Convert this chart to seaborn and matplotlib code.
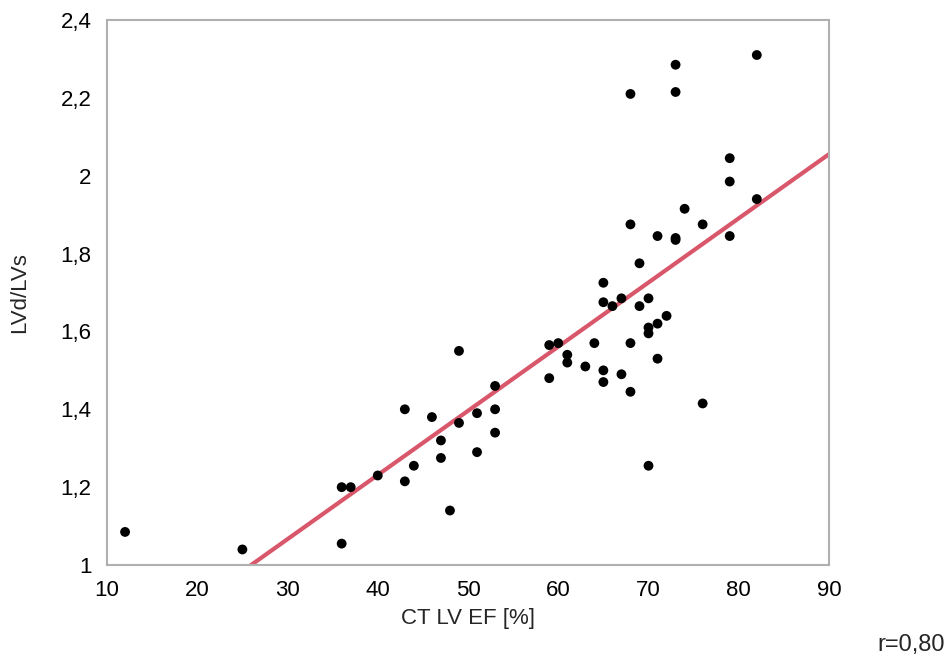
import matplotlib
matplotlib.use("Agg")
import matplotlib.pyplot as plt
import matplotlib.ticker as mticker
import seaborn as sns
import pandas as pd
import numpy as np

ct_lv_ef = [12, 25, 36, 37, 36, 40, 43, 43, 44, 46, 47, 47, 48, 49, 49, 51, 51,
            53, 53, 53, 59, 60, 59, 61, 61, 63, 64, 65, 65, 65, 65, 66, 67, 67,
            68, 68, 68, 68, 69, 69, 70, 70, 70, 70, 71, 71, 71, 72, 73, 73, 73,
            73, 74, 76, 76, 79, 79, 79, 82, 82]
lvd_lvs = [1.085, 1.04, 1.20, 1.20, 1.055, 1.23, 1.40, 1.215, 1.255, 1.38, 1.32,
           1.275, 1.14, 1.55, 1.365, 1.39, 1.29, 1.46, 1.40, 1.34, 1.565, 1.57,
           1.48, 1.54, 1.52, 1.51, 1.57, 1.725, 1.675, 1.50, 1.47, 1.665, 1.685,
           1.49, 1.875, 1.57, 1.445, 2.21, 1.775, 1.665, 1.685, 1.61, 1.595,
           1.255, 1.845, 1.62, 1.53, 1.64, 2.285, 2.215, 1.84, 1.835, 1.915,
           1.875, 1.415, 2.045, 1.985, 1.845, 2.31, 1.94]

x_ticks = [10, 20, 30, 40, 50, 60, 70, 80, 90]
y_ticks = [1.0, 1.2, 1.4, 1.6, 1.8, 2.0, 2.2, 2.4]
r_label = "r=0,80"

df = pd.DataFrame({"ef": ct_lv_ef, "ratio": lvd_lvs})

sns.set_style("white")
plt.rcParams["font.family"] = ["Liberation Sans", "DejaVu Sans"]

fig = plt.figure(figsize=(9.47, 6.59), dpi=100)
ax = fig.add_axes([0.113, 0.1426, 0.7624, 0.8271])
ax.set_xlim(10, 90)
ax.set_ylim(1, 2.4)

sns.regplot(data=df, x="ef", y="ratio", ax=ax, ci=None, truncate=False,
            scatter_kws=dict(s=50, color="black", edgecolor="none", alpha=1, zorder=3),
            line_kws=dict(color="#d9576a", lw=3, zorder=2))

ax.set_xlim(10, 90)
ax.set_ylim(1, 2.4)
ax.set_xticks(x_ticks)
ax.set_yticks(y_ticks)
fmt = lambda v, p: (f"{v:g}").replace(".", ",")
ax.yaxis.set_major_formatter(mticker.FuncFormatter(fmt))
ax.xaxis.set_major_formatter(mticker.FuncFormatter(fmt))

for s in ax.spines.values():
    s.set_color("#b0b0b0")
    s.set_linewidth(1.5)
ax.tick_params(axis="both", which="major", direction="out", length=7, width=1.2,
               color="#b0b0b0", labelsize=16, labelcolor="black", pad=4)
ax.set_xlabel("CT LV EF [%]", fontsize=16, labelpad=5)
ax.set_ylabel("LVd/LVs", fontsize=16, labelpad=22)

fig.text(0.998, 0.004, r_label, ha="right", va="bottom", fontsize=17)

fig.savefig("out.png", dpi=100)
